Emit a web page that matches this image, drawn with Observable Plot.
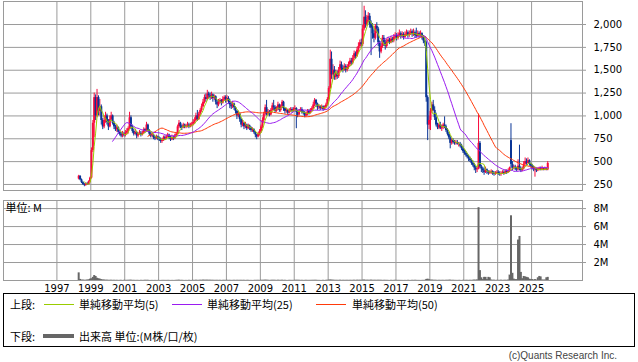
<!DOCTYPE html>
<html><head><meta charset="utf-8">
<script src="https://cdn.jsdelivr.net/npm/d3@7"></script>
<script src="https://cdn.jsdelivr.net/npm/@observablehq/plot@0.6"></script>
<style>
body{margin:0;background:#fff;}
#wrap{position:relative;width:638px;height:362px;overflow:hidden;background:#fff;}
#wrap svg{position:absolute;left:0;}
.lg{position:absolute;font:11px "Noto Sans CJK JP","Noto Sans",sans-serif;line-height:16px;color:#000;white-space:nowrap;}
.sw{position:absolute;}
</style></head><body><div id="wrap"></div>
<script>
// ---- data: monthly candles, Apr 1998 .. Dec 2025 (one row per year) ----
const years = [1998,1999,2000,2001,2002,2003,2004,2005,2006,2007,2008,2009,2010,2011,2012,2013,2014,2015,2016,2017,2018,2019,2020,2021,2022,2023,2024,2025];
const opens = [
[310,340,300,270,250,240,255,250,280],
[320,620,920,1200,1000,1200,1050,1100,950,880,950,1000],
[930,880,960,1000,920,880,850,870,820,800,780,800],
[790,810,830,860,980,880,830,800,820,780,800,810],
[790,810,850,830,900,840,800,780,790,760,750,770],
[750,740,720,730,760,750,770,790,760,740,760,750],
[780,800,880,920,880,870,900,880,890,900,880,900],
[910,930,950,1000,960,1020,1060,1100,1150,1200,1180,1240],
[1220,1200,1230,1190,1210,1150,1120,1150,1170,1140,1180,1200],
[1170,1190,1160,1120,1100,1130,1090,1050,1000,1020,960,900],
[920,880,900,860,890,870,840,850,820,790,770,800],
[830,880,950,1020,1090,1020,1040,1010,1060,1110,1090,1050],
[1080,1120,1060,1100,1150,1080,1050,1060,1030,1060,1070,1050],
[1070,1080,1040,1010,1050,1070,1040,1030,1000,1020,1050,1030],
[1060,1080,1120,1170,1130,1090,1100,1080,1100,1070,1090,1120],
[1180,1300,1620,1450,1500,1420,1460,1430,1500,1560,1520,1500],
[1540,1500,1530,1560,1600,1580,1630,1680,1650,1720,1760,1800],
[1780,1950,2080,2000,2050,2090,2000,1960,1900,1850,1980,1950],
[1800,1700,1760,1850,1800,1760,1810,1830,1800,1840,1820,1860],
[1880,1850,1880,1900,1870,1890,1860,1890,1910,1880,1900,1920],
[1890,1910,1880,1870,1900,1880,1900,1860,1820,1800,1200,900],
[950,1050,1120,1060,980,900,870,900,860,880,900,880],
[840,800,760,700,730,710,700,710,690,690,670,640],
[610,590,570,550,530,510,480,460,430,410,420,700],
[440,420,400,380,410,390,370,380,390,370,360,370],
[380,370,360,370,380,370,390,380,400,730,470,430],
[440,420,410,450,420,400,420,470,500,480,510,470],
[450,430,410,420,400,410,420,410,420,410,420,410]];
const highs = [
[350,345,310,280,260,265,270,290,330],
[650,950,1250,1230,1290,1220,1180,1120,970,1000,1040,1020],
[960,1000,1040,1010,940,900,900,880,840,820,830,820],
[840,860,880,1040,1000,900,850,850,830,820,840,830],
[830,870,860,930,910,850,820,810,800,780,790,780],
[770,760,750,780,780,790,810,800,780,790,780,800],
[820,900,950,930,900,920,910,910,930,920,920,930],
[960,980,1030,1060,1040,1080,1130,1180,1230,1240,1280,1260],
[1250,1260,1240,1230,1220,1170,1180,1190,1180,1210,1220,1220],
[1220,1210,1180,1150,1160,1140,1100,1060,1050,1030,970,950],
[930,930,910,910,900,880,870,860,830,800,820,850],
[900,980,1040,1120,1170,1070,1060,1080,1140,1170,1110,1100],
[1150,1130,1120,1170,1160,1090,1080,1070,1080,1090,1090,1090],
[1110,1090,1060,1070,1090,1090,1060,1050,1040,1070,1070,1080],
[1100,1150,1190,1180,1140,1120,1110,1120,1110,1110,1140,1200],
[1320,1720,1700,1560,1540,1500,1490,1530,1600,1590,1550,1570],
[1560,1560,1590,1630,1630,1660,1710,1700,1750,1800,1830,1840],
[1990,2200,2150,2100,2130,2120,2040,2010,1940,2000,2020,1970],
[1820,1790,1880,1880,1830,1840,1860,1850,1870,1860,1890,1910],
[1900,1910,1940,1920,1920,1910,1920,1940,1930,1930,1950,1940],
[1950,1930,1960,1930,1920,1930,1910,1880,1860,1820,1220,1000],
[1080,1150,1170,1100,1030,920,920,930,900,920,990,900],
[860,820,780,750,750,730,730,730,710,710,690,660],
[630,610,590,570,550,530,510,480,450,440,1020,720],
[460,440,430,440,420,400,400,410,400,390,390,400],
[400,390,390,400,400,410,410,420,440,915,500,460],
[460,440,520,680,440,440,500,540,530,540,520,480],
[470,450,440,430,430,440,440,450,430,440,430,500]];
const lows = [
[300,290,260,240,225,230,240,245,270],
[310,600,760,950,980,1000,1000,900,850,860,920,900],
[840,870,940,900,850,830,820,800,780,760,760,770],
[770,790,800,850,850,810,780,790,750,760,790,770],
[780,800,810,820,820,780,760,760,740,730,740,730],
[720,700,700,720,730,740,760,740,720,730,730,740],
[770,790,860,860,840,860,860,860,870,860,870,880],
[890,910,940,940,950,1000,1040,1090,1130,1150,1170,1190],
[1170,1180,1150,1170,1120,1080,1100,1130,1110,1130,1160,1140],
[1150,1130,1080,1070,1080,1060,1020,960,980,930,870,880],
[850,860,840,850,840,820,820,800,760,740,760,780],
[810,860,930,1000,1000,1000,990,1000,1050,1060,1030,1040],
[1060,1040,1040,1080,1050,1020,1030,1010,1020,1040,1030,1040],
[1050,860,980,1000,1040,1020,1010,980,990,1000,1010,1020],
[1040,1070,1100,1100,1060,1070,1060,1070,1050,1060,1080,1110],
[1160,1290,1400,1400,1390,1390,1400,1410,1480,1490,1470,1490],
[1470,1480,1510,1540,1550,1560,1610,1620,1640,1690,1740,1750],
[1760,1930,1960,1980,2020,1960,1660,1840,1800,1830,1900,1760],
[1630,1680,1740,1760,1720,1740,1790,1780,1790,1800,1800,1840],
[1820,1830,1860,1840,1850,1830,1850,1870,1850,1860,1880,1860],
[1870,1850,1850,1860,1850,1860,1830,1790,1760,1150,730,850],
[840,1030,1050,950,880,850,850,850,830,850,860,820],
[780,740,640,680,690,680,680,680,660,650,620,590],
[570,550,530,500,490,460,440,400,370,380,410,420],
[380,370,350,370,360,350,360,360,350,340,350,360],
[350,340,340,360,350,360,360,370,380,420,400,410],
[400,390,400,400,380,390,410,460,460,470,450,430],
[410,390,330,380,390,400,400,400,400,400,400,400]];
const closes = [
[340,300,270,250,240,255,250,280,320],
[620,920,1200,1000,1200,1050,1100,950,880,950,1000,930],
[880,960,1000,920,880,850,870,820,800,780,800,790],
[810,830,860,980,880,830,800,820,780,800,810,790],
[810,850,830,900,840,800,780,790,760,750,770,750],
[740,720,730,760,750,770,790,760,740,760,750,780],
[800,880,920,880,870,900,880,890,900,880,900,910],
[930,950,1000,960,1020,1060,1100,1150,1200,1180,1240,1220],
[1200,1230,1190,1210,1150,1120,1150,1170,1140,1180,1200,1170],
[1190,1160,1120,1100,1130,1090,1050,1000,1020,960,900,920],
[880,900,860,890,870,840,850,820,790,770,800,830],
[880,950,1020,1090,1020,1040,1010,1060,1110,1090,1050,1080],
[1120,1060,1100,1150,1080,1050,1060,1030,1060,1070,1050,1070],
[1080,1040,1010,1050,1070,1040,1030,1000,1020,1050,1030,1060],
[1080,1120,1170,1130,1090,1100,1080,1100,1070,1090,1120,1180],
[1300,1620,1450,1500,1420,1460,1430,1500,1560,1520,1500,1540],
[1500,1530,1560,1600,1580,1630,1680,1650,1720,1760,1800,1780],
[1950,2080,2000,2050,2090,2000,1960,1900,1850,1980,1950,1800],
[1700,1760,1850,1800,1760,1810,1830,1800,1840,1820,1860,1880],
[1850,1880,1900,1870,1890,1860,1890,1910,1880,1900,1920,1890],
[1910,1880,1870,1900,1880,1900,1860,1820,1800,1200,900,950],
[1050,1120,1060,980,900,870,900,860,880,900,880,840],
[800,760,700,730,710,700,710,690,690,670,640,610],
[590,570,550,530,510,480,460,430,410,420,700,440],
[420,400,380,410,390,370,380,390,370,360,370,380],
[370,360,370,380,370,390,380,400,430,470,430,440],
[420,410,450,420,400,420,470,500,480,510,470,450],
[430,410,420,400,410,420,410,420,410,420,410,480]];
// volume in millions
const volumes = [
[0.85,0.12,0.05,0.04,0.03,0.03,0.05,0.08,0.15],
[0.2,0.35,0.55,0.45,0.25,0.2,0.15,0.1,0.06,0.05,0.04,0.03],
[0.03,0.02,0.03,0.02,0.02,0.02,0.02,0.01,0.02,0.02,0.01,0.02],
[0.02,0.02,0.02,0.04,0.03,0.02,0.02,0.01,0.02,0.01,0.01,0.02],
[0.01,0.02,0.02,0.03,0.02,0.01,0.01,0.01,0.01,0.01,0.01,0.01],
[0.01,0.01,0.01,0.02,0.01,0.01,0.02,0.01,0.01,0.01,0.01,0.01],
[0.02,0.03,0.03,0.02,0.02,0.01,0.01,0.01,0.01,0.02,0.01,0.01],
[0.02,0.02,0.03,0.02,0.02,0.03,0.03,0.04,0.04,0.03,0.04,0.03],
[0.03,0.03,0.02,0.02,0.02,0.02,0.02,0.02,0.01,0.02,0.02,0.02],
[0.02,0.02,0.02,0.01,0.02,0.02,0.02,0.02,0.02,0.02,0.02,0.02],
[0.02,0.01,0.02,0.02,0.01,0.01,0.01,0.01,0.02,0.02,0.02,0.02],
[0.02,0.03,0.03,0.04,0.04,0.02,0.02,0.02,0.03,0.03,0.02,0.02],
[0.03,0.02,0.02,0.03,0.02,0.02,0.01,0.01,0.02,0.02,0.01,0.02],
[0.02,0.03,0.03,0.02,0.02,0.02,0.01,0.02,0.02,0.02,0.01,0.02],
[0.02,0.02,0.03,0.02,0.02,0.01,0.01,0.01,0.02,0.01,0.02,0.03],
[0.04,0.06,0.05,0.03,0.03,0.02,0.02,0.02,0.03,0.02,0.02,0.02],
[0.02,0.02,0.02,0.02,0.02,0.02,0.03,0.02,0.03,0.03,0.03,0.02],
[0.04,0.05,0.03,0.03,0.03,0.03,0.04,0.03,0.02,0.03,0.02,0.03],
[0.03,0.02,0.02,0.02,0.02,0.02,0.01,0.01,0.02,0.01,0.02,0.02],
[0.02,0.01,0.02,0.01,0.01,0.01,0.01,0.01,0.02,0.01,0.01,0.02],
[0.02,0.02,0.02,0.01,0.01,0.01,0.01,0.02,0.02,0.12,0.15,0.08],
[0.05,0.04,0.03,0.03,0.02,0.02,0.02,0.02,0.02,0.02,0.02,0.02],
[0.03,0.03,0.04,0.02,0.02,0.02,0.01,0.01,0.02,0.01,0.01,0.02],
[0.02,0.02,0.02,0.02,0.02,0.02,0.03,0.05,0.04,0.06,8.1,1.1],
[0.3,0.1,0.35,0.35,0.1,0.35,0.3,0.05,0.03,0.03,0.02,0.02],
[0.02,0.02,0.03,0.02,0.02,0.03,0.02,0.05,0.6,7.2,0.8,0.15],
[0.1,0.1,4.5,4.9,0.9,0.2,0.45,0.4,0.35,0.3,0.15,0.1],
[0.1,0.05,0.1,0.05,0.3,0.45,0.4,0.05,0.05,0.05,0.3,0.35]];
const priceTicks = [250,500,750,1000,1250,1500,1750,2000];
const volTicks = [2,4,6,8];
const yearLabels = [1997,1999,2001,2003,2005,2007,2009,2011,2013,2015,2017,2019,2021,2023,2025];
const maPeriods = [5,25,50];
const legendTop = ["単純移動平均(5)","単純移動平均(25)","単純移動平均(50)"];

// ---- styling ----
const UP = "#fa0a3c", DOWN = "#0a3596";
const MA_COLORS = {5: "#99cc00", 25: "#9a1cf0", 50: "#ff3a0a"};
const GRID = "#9a9a9a";

const rows = [];
years.forEach((y, yi) => {
  const n = closes[yi].length, m0 = 12 - n;
  for (let j = 0; j < n; j++) {
    rows.push({date: new Date(Date.UTC(y, m0 + j, 15)), o: opens[yi][j], h: highs[yi][j], l: lows[yi][j], c: closes[yi][j], v: volumes[yi][j]});
  }
});
rows.forEach(d => d.col = d.c >= d.o ? UP : DOWN);

const xDomain = [new Date(Date.UTC(1993, 10, 7)), new Date(Date.UTC(2028, 0, 3))];
const yearDates = yearLabels.map(y => new Date(Date.UTC(y, 0, 1)));
const common = {width: 638, marginLeft: 3, marginRight: 56,
  style: {fontFamily: "DejaVu Sans", fontSize: "10px", color: "#000", background: "transparent", overflow: "visible"}};

const topPlot = Plot.plot({
  ...common, height: 191, marginTop: 1, marginBottom: 1,
  x: {type: "utc", domain: xDomain, axis: null},
  y: {domain: [184, 2252], label: null},
  color: {type: "identity"},
  marks: [
    Plot.gridY(priceTicks, {stroke: GRID, strokeOpacity: 1}),
    Plot.gridX(yearDates, {stroke: GRID, strokeOpacity: 1}),
    Plot.frame({stroke: GRID}),
    Plot.axisY(priceTicks, {anchor: "right", tickSize: 3, tickPadding: 8, tickFormat: d3.format(","), stroke: GRID, label: null}),
    Plot.ruleX(rows, {x: "date", y1: "l", y2: "h", stroke: "col", strokeWidth: 1}),
    Plot.ruleX(rows, {x: "date", y1: "o", y2: "c", stroke: "col", strokeWidth: 2}),
    ...maPeriods.slice().reverse().map(k =>
      Plot.lineY(rows, Plot.windowY({k, anchor: "end", strict: true}, {x: "date", y: "c", stroke: MA_COLORS[k], strokeWidth: 1}))
    )
  ]
});

const volPlot = Plot.plot({
  ...common, height: 103, marginTop: 9, marginBottom: 14,
  x: {type: "utc", domain: xDomain, label: null},
  y: {domain: [0, 8.9], label: null},
  marks: [
    Plot.gridY(volTicks, {stroke: GRID, strokeOpacity: 1}),
    Plot.gridX(yearDates, {stroke: GRID, strokeOpacity: 1}),
    Plot.frame({stroke: GRID}),
    Plot.axisY(volTicks, {anchor: "right", tickSize: 3, tickPadding: 8, tickFormat: d => d + "M", stroke: GRID, label: null}),
    Plot.axisX(yearDates, {anchor: "bottom", tickSize: 0, tickPadding: 4, tickFormat: d3.utcFormat("%Y"), label: null}),
    Plot.ruleX(rows, {x: "date", y: "v", stroke: "#666", strokeWidth: 2}),
    Plot.text(["単位: M"], {frameAnchor: "top-left", dx: 2, dy: 4, fontSize: 11, fontFamily: "Noto Sans CJK JP", fill: "#000"})
  ]
});

const wrap = document.getElementById("wrap");
topPlot.style.top = "0px";
volPlot.style.top = "191px";
wrap.appendChild(topPlot);
wrap.appendChild(volPlot);

function el(cls, css, text) {
  const e = document.createElement("div");
  e.className = cls; e.style.cssText = css;
  if (text != null) e.textContent = text;
  wrap.appendChild(e); return e;
}
el("sw", "left:3px;top:293px;width:630px;height:52px;border:1px solid #000;background:#fff;");
el("lg", "left:10px;top:296px;", "上段:");
const swX = [44, 172, 316], txX = [79, 207, 352];
maPeriods.forEach((k, i) => {
  el("sw", `left:${swX[i]}px;top:304px;width:30px;height:1px;background:${MA_COLORS[k]};`);
  el("lg", `left:${txX[i]}px;top:296px;`, legendTop[i]);
});
el("lg", "left:10px;top:328px;", "下段:");
el("sw", "left:43px;top:334px;width:31px;height:4px;background:#666;");
el("lg", "left:79px;top:328px;", "出来高 単位:(M株/口/枚)");
el("lg", "right:21px;top:350px;font:10px 'Liberation Sans',sans-serif;color:#444;", "(c)Quants Research Inc.");
</script></body></html>
